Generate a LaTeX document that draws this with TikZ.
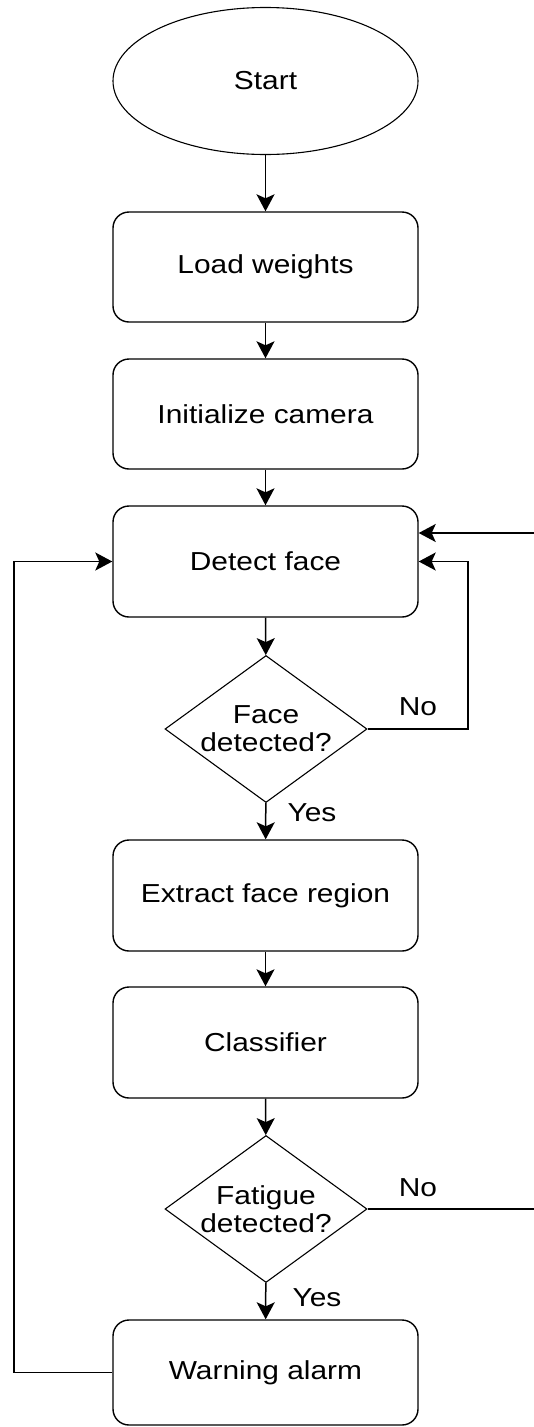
\documentclass[tikz,border=0pt]{standalone}
\usepackage{fontspec}
\setmainfont[FakeStretch=1.15]{Liberation Sans}
\usetikzlibrary{shapes.geometric,arrows.meta}

\tikzset{
  txt/.style={font=\fontsize{26}{28}\selectfont, align=center},
  terminal/.style={draw, ellipse, line width=1.1pt, minimum width=305pt, minimum height=147pt, txt},
  process/.style={draw, rounded corners=16pt, line width=1.4pt, minimum width=305pt, minimum height=110pt, txt},
  decision/.style={draw, diamond, line width=1.1pt, minimum width=202pt, minimum height=147pt, inner sep=0pt},
  flow/.style={-{Stealth[length=17pt,width=18pt,inset=4pt]}, line width=1.5pt},
}

\begin{document}
\begin{tikzpicture}[x=1pt,y=-1pt]
  \useasboundingbox (0,0) rectangle (534,1427);
  \draw
    (265.5,81) node[terminal] (start){Start}
    (265.5,267) node[process] (load){Load weights}
    (265.5,414) node[process] (init){Initialize camera}
    (265.5,561.5) node[process, minimum height=111pt] (detect){Detect face}
    (266,729) node[decision, label={[txt]center:Face\\detected?}] (face){}
    (265.5,895.5) node[process, minimum height=111pt] (extract){Extract face region}
    (265.5,1042.5) node[process, minimum height=111pt] (classif){Classifier}
    (266,1209) node[decision, label={[txt]center:Fatigue\\detected?}] (fatigue){}
    (265.5,1372.5) node[process, minimum height=105pt] (alarm){Warning alarm};
  % branch labels
  \node[txt] (faceno) at (418,707) {No};
  \node[txt] (faceyes) at (312,813) {Yes};
  \node[txt] (fatno) at (418,1188) {No};
  \node[txt] (fatyes) at (317,1298) {Yes};
  % loop corners
  \coordinate (loopR) at (468,729);
  \coordinate (loopL) at (14,1372.5);
  \coordinate (outR) at (534,1209);
  \coordinate (inR) at (534,533);
  \begin{scope}[flow]
    \draw (start) to (load);
    \draw (load) to (init);
    \draw (init) to (detect);
    \draw (detect) to (face);
    \draw (face) to (extract);
    \draw (extract) to (classif);
    \draw (classif) to (fatigue);
    \draw (fatigue) to (alarm);
    \draw (face.east) -- (loopR) |- (detect.east);
    \draw (alarm.west) -- (loopL) |- (detect.west);
    \draw (inR) -- ([yshift=28.5pt]detect.east);
  \end{scope}
  \draw[line width=1.5pt] (fatigue.east) -- (outR);
\end{tikzpicture}
\end{document}
